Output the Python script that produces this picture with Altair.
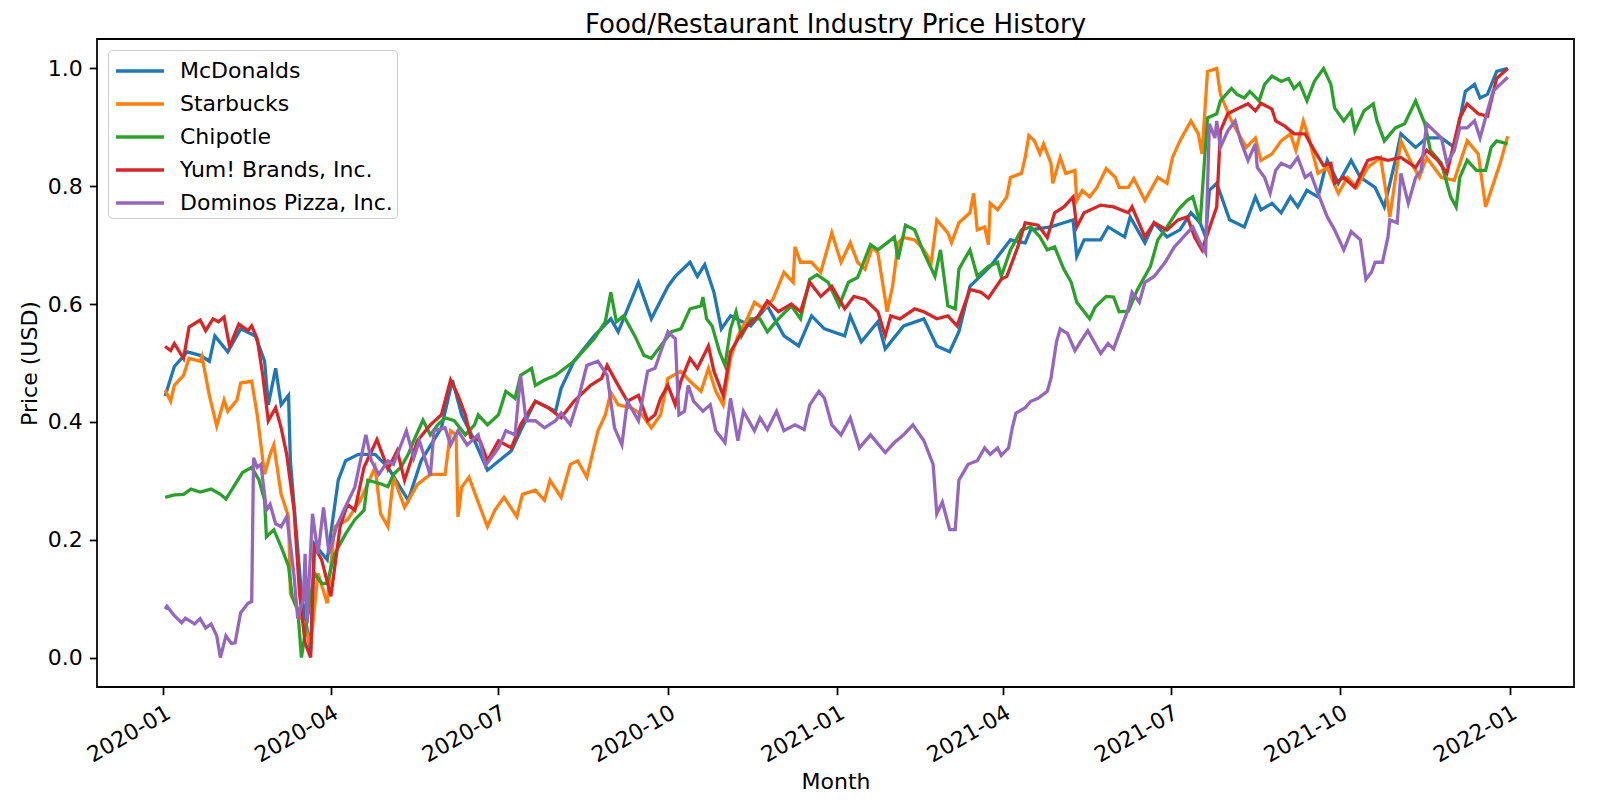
import altair as alt
import pandas as pd

TITLE = "Food/Restaurant Industry Price History"
COMPANIES = ["McDonalds", "Starbucks", "Chipotle", "Yum! Brands, Inc.", "Dominos Pizza, Inc."]
COLORS = ["#1f77b4", "#ff7f0e", "#2ca02c", "#d62728", "#9467bd"]
START = "2020-01-01"
TICK_LABELS = ["2020-01", "2020-04", "2020-07", "2020-10", "2021-01",
               "2021-04", "2021-07", "2021-10", "2022-01"]
Y_TICKS = [0.0, 0.2, 0.4, 0.6, 0.8, 1.0]

# (days since START, normalized price)
MCD = [(1, .444), (6, .494), (13, .519), (20, .513), (25, .503), (28, .546), (35, .519), (42, .558),
       (50, .546), (55, .503), (57, .429), (61, .491), (64, .429), (68, .445), (69, .334), (75, .109),
       (80, .01), (82, .193), (89, .166), (95, .301), (99, .334), (106, .345), (115, .345), (122, .323),
       (133, .267), (140, .334), (151, .39), (157, .471), (162, .412), (169, .368), (176, .318),
       (189, .351), (194, .385), (202, .435), (213, .418), (216, .457), (223, .503), (234, .546),
       (243, .575), (247, .553), (258, .637), (265, .575), (274, .63), (278, .647), (286, .671),
       (290, .647), (294, .667), (299, .62), (303, .558), (308, .58), (319, .563), (328, .597),
       (337, .546), (345, .529), (352, .58), (359, .558), (370, .546), (373, .58), (379, .536),
       (388, .57), (392, .524), (402, .563), (413, .575), (420, .529), (427, .519), (432, .553),
       (438, .63), (449, .664), (460, .709), (468, .704), (471, .726), (482, .731), (489, .738),
       (494, .743), (496, .681), (500, .709), (509, .709), (513, .731), (522, .714), (525, .748),
       (533, .704), (538, .738), (545, .714), (552, .726), (558, .755), (563, .738), (566, .714),
       (568, .793), (572, .805), (579, .743), (587, .731), (593, .782), (596, .76), (602, .771),
       (607, .755), (612, .782), (616, .765), (621, .793), (627, .782), (632, .844), (638, .805),
       (645, .844), (650, .815), (658, .798), (663, .765), (669, .844), (672, .889), (680, .866),
       (686, .882), (694, .882), (701, .866), (707, .961), (712, .973), (715, .95), (719, .956),
       (724, .995), (730, 1.0)]

SBUX = [(1, .454), (4, .435), (6, .462), (11, .479), (14, .508), (20, .503), (21, .511), (25, .445),
        (29, .393), (33, .437), (35, .418), (40, .437), (42, .466), (48, .469), (51, .412), (55, .311),
        (58, .345), (60, .361), (64, .277), (68, .239), (69, .109), (72, .087), (77, .054), (80, .02),
        (84, .143), (89, .092), (93, .222), (100, .234), (107, .267), (115, .323), (118, .244),
        (122, .222), (125, .306), (131, .255), (138, .294), (145, .311), (153, .311), (156, .385),
        (159, .378), (160, .239), (162, .289), (166, .306), (170, .272), (176, .222), (180, .25),
        (185, .272), (192, .239), (195, .277), (202, .284), (207, .267), (210, .301), (216, .272),
        (221, .328), (225, .334), (230, .306), (236, .385), (240, .412), (243, .45), (247, .429),
        (254, .424), (260, .412), (265, .39), (270, .412), (274, .474), (281, .486), (286, .469),
        (292, .452), (296, .491), (300, .452), (304, .429), (308, .508), (312, .546), (317, .575),
        (321, .603), (326, .592), (331, .608), (337, .654), (342, .637), (343, .697), (346, .671),
        (352, .671), (357, .654), (363, .721), (368, .671), (373, .704), (377, .671), (381, .659),
        (385, .697), (388, .687), (392, .608), (393, .587), (396, .63), (399, .704), (402, .713),
        (408, .709), (413, .692), (417, .671), (420, .743), (426, .721), (428, .704), (432, .738),
        (438, .755), (440, .788), (442, .726), (446, .731), (448, .701), (449, .771), (453, .76),
        (458, .782), (460, .815), (466, .822), (468, .849), (470, .886), (473, .877), (476, .855),
        (478, .872), (482, .839), (483, .805), (487, .849), (490, .822), (495, .827), (496, .776),
        (499, .793), (503, .782), (507, .798), (512, .83), (517, .815), (519, .798), (524, .798),
        (527, .813), (533, .776), (540, .815), (545, .805), (548, .849), (552, .877), (558, .911),
        (562, .889), (564, .855), (567, .995), (572, 1.0), (574, .956), (580, .911), (583, .894),
        (588, .866), (593, .882), (596, .844), (602, .855), (607, .877), (612, .889), (615, .861),
        (619, .911), (622, .882), (627, .822), (632, .832), (638, .788), (643, .815), (648, .798),
        (654, .832), (661, .849), (666, .748), (672, .877), (677, .844), (682, .815), (686, .849),
        (694, .815), (701, .81), (708, .877), (714, .855), (718, .765), (721, .793), (726, .84),
        (730, .885)]

CMG = [(1, .272), (6, .276), (11, .277), (15, .286), (20, .281), (26, .286), (31, .277), (34, .269),
       (39, .294), (43, .314), (48, .323), (52, .301), (55, .267), (56, .205), (60, .217), (64, .188),
       (68, .155), (70, .104), (73, .082), (75, .0), (79, .082), (82, .143), (86, .126), (89, .126),
       (93, .176), (99, .21), (104, .234), (109, .25), (111, .301), (118, .295), (122, .29),
       (125, .311), (129, .323), (133, .345), (136, .368), (141, .403), (145, .378), (149, .395),
       (153, .407), (158, .402), (164, .378), (169, .395), (171, .412), (176, .395), (182, .412),
       (186, .452), (191, .44), (194, .479), (200, .491), (202, .462), (207, .471), (213, .479),
       (218, .491), (223, .503), (229, .524), (234, .541), (240, .57), (243, .62), (246, .57),
       (250, .58), (256, .546), (261, .513), (265, .508), (270, .529), (276, .553), (281, .558),
       (286, .592), (292, .597), (293, .612), (295, .575), (298, .563), (302, .519), (305, .496),
       (308, .558), (311, .587), (314, .546), (319, .575), (324, .575), (328, .553), (334, .575),
       (341, .597), (346, .575), (351, .642), (355, .65), (361, .637), (367, .597), (372, .637),
       (377, .645), (384, .701), (388, .692), (393, .704), (397, .714), (399, .676), (403, .734),
       (408, .726), (413, .687), (419, .647), (422, .692), (426, .597), (430, .592), (432, .659),
       (435, .676), (438, .692), (442, .647), (448, .664), (453, .671), (455, .647), (460, .692),
       (466, .726), (471, .731), (476, .714), (480, .692), (484, .697), (489, .659), (493, .637),
       (496, .603), (503, .575), (506, .595), (512, .613), (516, .612), (519, .587), (524, .588),
       (529, .625), (536, .664), (540, .709), (545, .731), (551, .76), (556, .776), (559, .782),
       (563, .738), (567, .916), (572, .923), (574, .945), (580, .966), (583, .956), (587, .95),
       (590, .961), (595, .945), (598, .973), (602, .987), (607, .978), (611, .983), (614, .966),
       (617, .975), (621, .945), (625, .978), (630, 1.0), (634, .973), (636, .933), (641, .911),
       (645, .928), (647, .894), (652, .928), (657, .94), (659, .911), (663, .877), (669, .899),
       (674, .906), (680, .945), (685, .906), (688, .861), (694, .839), (699, .782), (702, .765),
       (704, .815), (708, .844), (713, .827), (718, .827), (721, .866), (724, .877), (730, .872)]

YUM = [(1, .528), (4, .521), (6, .533), (11, .508), (14, .561), (20, .573), (23, .555), (27, .575),
       (30, .57), (33, .578), (36, .528), (41, .566), (46, .555), (48, .563), (51, .541), (54, .479),
       (57, .402), (61, .424), (64, .39), (67, .345), (71, .25), (74, .109), (77, .025), (80, .0),
       (82, .188), (86, .166), (91, .104), (96, .222), (100, .26), (104, .25), (109, .323),
       (116, .37), (122, .32), (127, .351), (131, .301), (138, .368), (145, .395), (151, .412),
       (156, .471), (160, .445), (164, .412), (167, .373), (172, .368), (176, .334), (182, .368),
       (189, .356), (194, .395), (202, .435), (209, .424), (216, .407), (223, .435), (232, .462),
       (238, .474), (241, .496), (247, .462), (252, .435), (258, .445), (263, .402), (267, .412),
       (270, .44), (274, .462), (278, .429), (281, .469), (286, .508), (290, .491), (296, .529),
       (299, .486), (304, .445), (308, .519), (313, .546), (317, .563), (323, .58), (328, .605),
       (334, .587), (341, .60), (346, .587), (351, .637), (357, .613), (363, .63), (370, .592),
       (375, .613), (381, .608), (388, .587), (392, .546), (395, .58), (400, .575), (408, .592),
       (413, .587), (420, .575), (426, .58), (431, .563), (438, .625), (444, .62), (448, .61),
       (455, .642), (458, .647), (464, .697), (468, .738), (475, .734), (480, .713), (484, .755),
       (489, .765), (494, .782), (496, .731), (500, .755), (509, .768), (516, .765), (524, .755),
       (526, .765), (533, .714), (538, .738), (545, .726), (551, .743), (556, .748), (560, .714),
       (564, .692), (572, .765), (574, .894), (578, .923), (583, .931), (589, .94), (593, .928),
       (596, .941), (602, .931), (604, .911), (609, .902), (614, .889), (620, .889), (625, .861),
       (630, .835), (634, .839), (636, .805), (641, .815), (647, .798), (654, .844), (659, .849),
       (665, .844), (672, .849), (680, .832), (686, .861), (692, .844), (697, .822), (704, .916),
       (708, .94), (714, .923), (719, .919), (724, .983), (730, 1.0)]

DPZ = [(1, .082), (2, .087), (6, .071), (10, .059), (12, .067), (17, .057), (20, .066), (23, .05),
       (26, .057), (29, .037), (31, .0), (34, .037), (37, .024), (39, .025), (42, .076), (46, .092),
       (48, .095), (49, .339), (51, .323), (53, .328), (56, .25), (58, .26), (61, .227), (64, .222),
       (67, .239), (69, .193), (71, .138), (73, .066), (76, .099), (77, .176), (78, .059), (81, .244),
       (84, .176), (87, .255), (90, .176), (94, .222), (98, .25), (104, .289), (107, .334),
       (110, .378), (113, .334), (117, .311), (122, .334), (125, .328), (132, .385), (136, .339),
       (139, .368), (145, .309), (147, .385), (153, .39), (156, .361), (160, .385), (165, .361),
       (171, .378), (175, .326), (182, .356), (186, .385), (191, .378), (194, .479), (197, .402),
       (202, .402), (207, .39), (213, .402), (216, .415), (221, .395), (225, .435), (230, .496),
       (236, .503), (241, .479), (245, .39), (249, .361), (252, .435), (258, .402), (263, .486),
       (267, .491), (272, .536), (274, .553), (278, .541), (280, .412), (283, .418), (285, .462),
       (288, .435), (293, .418), (297, .429), (300, .385), (305, .365), (308, .44), (312, .368),
       (315, .418), (321, .385), (324, .407), (328, .387), (333, .418), (337, .385), (343, .395),
       (348, .387), (351, .429), (356, .452), (359, .44), (363, .395), (368, .378), (373, .407),
       (378, .356), (384, .378), (392, .348), (397, .365), (402, .378), (407, .395), (413, .368),
       (418, .328), (420, .244), (423, .264), (427, .217), (430, .217), (432, .301), (437, .328),
       (442, .334), (446, .356), (449, .345), (453, .356), (455, .343), (459, .356), (461, .39),
       (463, .415), (468, .424), (471, .435), (475, .44), (480, .452), (482, .474), (485, .536),
       (487, .558), (491, .55), (495, .521), (498, .536), (502, .555), (509, .516), (513, .533),
       (516, .524), (520, .558), (524, .592), (526, .62), (530, .603), (533, .637), (538, .647),
       (544, .671), (549, .697), (554, .714), (559, .731), (563, .704), (566, .687), (568, .906),
       (571, .882), (572, .911), (574, .866), (578, .894), (582, .911), (585, .877), (589, .844),
       (593, .872), (594, .832), (598, .815), (601, .788), (604, .827), (607, .839), (612, .832),
       (616, .849), (620, .815), (623, .822), (627, .788), (632, .748), (636, .726), (641, .692),
       (645, .723), (650, .709), (653, .642), (656, .654), (658, .671), (662, .671), (665, .714),
       (666, .743), (670, .738), (672, .822), (676, .771), (680, .815), (683, .827), (686, .906),
       (690, .894), (694, .882), (697, .839), (701, .861), (704, .899), (708, .899), (712, .911),
       (715, .882), (719, .928), (722, .961), (730, .985)]

SERIES = dict(zip(COMPANIES, [MCD, SBUX, CMG, YUM, DPZ]))
FONT = "DejaVu Sans"

# Build long-form table
start = pd.Timestamp(START)
rows = []
for name, points in SERIES.items():
    for day, price in points:
        rows.append({"company": name,
                     "date": (start + pd.Timedelta(days=day)).strftime("%Y-%m-%d"),
                     "price": price})
df = pd.DataFrame(rows)

tick_dates = [alt.DateTime(year=int(t[:4]), month=int(t[5:]), date=1, utc=True) for t in TICK_LABELS]
x_domain = [alt.DateTime(year=2019, month=11, date=26, utc=True),
            alt.DateTime(year=2022, month=2, date=5, utc=True)]

base = alt.Chart(df).mark_line(strokeWidth=3.3).encode(
    x=alt.X("date:T",
            title="Month",
            scale=alt.Scale(type="utc", domain=x_domain),
            axis=alt.Axis(values=tick_dates,
                          labelExpr="utcFormat(datum.value, '%Y-%m')",
                          labelAngle=-30, labelAlign="right", labelBaseline="top",
                          labelPadding=7, titlePadding=6)),
    y=alt.Y("price:Q",
            title="Price (USD)",
            scale=alt.Scale(domain=[-0.05, 1.05], nice=False, zero=False),
            axis=alt.Axis(values=Y_TICKS, format=".1f", labelPadding=7, titlePadding=6)),
    color=alt.Color("company:N",
                    scale=alt.Scale(domain=COMPANIES, range=COLORS),
                    legend=alt.Legend(title=None, orient="top-left", offset=11,
                                      fillColor="rgba(255,255,255,0.8)", strokeColor="#cccccc",
                                      cornerRadius=4, padding=4,
                                      symbolType="M-1.6,0L1.6,0", symbolSize=900,
                                      symbolStrokeWidth=3.3, symbolOffset=11, labelOffset=23,
                                      rowPadding=5, labelFont=FONT, labelFontSize=22,
                                      labelColor="black", labelLimit=400)),
)

# one layer per company keeps matplotlib's drawing order
layers = [base.transform_filter(alt.datum.company == name) for name in COMPANIES]

chart = (alt.layer(*layers)
         .properties(title=TITLE, width=1477, height=648,
                     padding={"left": 89, "top": 31, "right": 18, "bottom": 111},
                     autosize=alt.AutoSizeParams(type="none"))
         .configure_view(stroke="black", strokeWidth=1.76)
         .configure_axis(labelFont=FONT, labelFontSize=22, labelColor="black",
                         titleFont=FONT, titleFontSize=22, titleFontWeight="normal",
                         titleColor="black", tickColor="black", tickSize=7.7, tickWidth=1.76,
                         grid=False, domain=False)
         .configure_title(font=FONT, fontSize=26, fontWeight="normal", color="black",
                          anchor="middle", offset=1))

chart.save("out.html", embed_options={"renderer": "svg", "actions": False})
